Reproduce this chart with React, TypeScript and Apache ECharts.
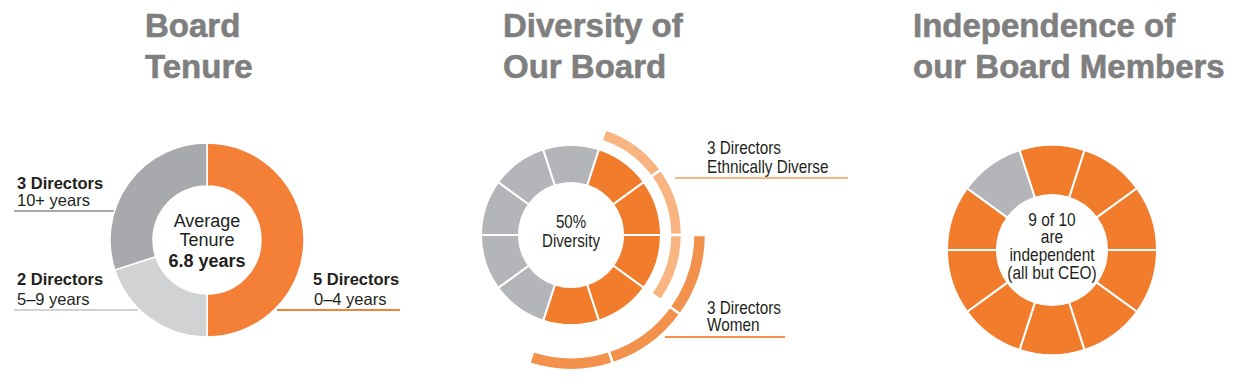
import React, { useEffect, useRef } from "react";
import * as echarts from "echarts";

// ---- Data ----
const titles = [
  ["Board", "Tenure"],
  ["Diversity of", "Our Board"],
  ["Independence of", "our Board Members"],
];
const tenureGroups = ["0–4 years", "5–9 years", "10+ years"];
const tenureDirectors = [5, 2, 3];
const averageTenure = "6.8 years";

// one entry per board seat (10 seats), clockwise
const diverseSeats = [1, 1, 1, 1, 1, 0, 0, 0, 0, 0];
const ethnicallyDiverseSeats = [1, 1, 1, 0, 0, 0, 0, 0, 0, 0];
const womenSeats = [0, 0, 1, 1, 1, 0, 0, 0, 0, 0];
const independentSeats = [1, 1, 1, 1, 1, 1, 1, 1, 0, 1];

const diversityPct = "50%";
const ethnicCount = 3;
const womenCount = 3;
const independentCount = 9;

// ---- Styles ----
const ORANGE = "#F07C2C";
const ORANGE_L = "#F47F36";
const GRAY_D = "#A8A9AC";
const GRAY_L = "#D1D2D4";
const GRAY_M = "#B4B5B8";
const ETH = "#F8B582";
const WOMEN = "#F2914C";
const TXT = "#231F20";
const TITLE = "#7F7F7F";
const FONT = "'Liberation Sans', Arial, sans-serif";

function seatPie(
  seats: number[],
  on: string,
  off: string | null,
  center: number[],
  radius: number[],
  border: number
) {
  return {
    type: "pie",
    center,
    radius,
    startAngle: 72,
    clockwise: true,
    silent: true,
    label: { show: false },
    labelLine: { show: false },
    emphasis: { disabled: true },
    data: seats.map((s, i) => ({
      name: "seat " + (i + 1),
      value: 1,
      itemStyle:
        s || off
          ? {
              color: s ? on : (off as string),
              borderColor: "#fff",
              borderWidth: border,
            }
          : { color: "rgba(0,0,0,0)", borderWidth: 0 },
    })),
  };
}

function txt(
  text: string,
  x: number,
  y: number,
  size: number,
  opts: any = {}
) {
  const align = opts.align || "left";
  return {
    type: "text",
    x,
    y,
    scaleX: opts.scaleX || 1,
    silent: true,
    style: {
      text,
      fill: opts.color || TXT,
      fontSize: size,
      fontWeight: opts.bold ? "bold" : "normal",
      fontFamily: FONT,
      align,
      verticalAlign: "middle",
      textAlign: align,
      textVerticalAlign: "middle",
      ...(opts.stroke
        ? { stroke: opts.color, lineWidth: opts.stroke }
        : {}),
    },
  };
}

function line(x1: number, x2: number, y: number, color: string) {
  return {
    type: "line",
    silent: true,
    shape: { x1, y1: y, x2, y2: y },
    style: { stroke: color, lineWidth: 2 },
  };
}

export default function App() {
  const ref = useRef<HTMLDivElement>(null);

  useEffect(() => {
    document.body.style.margin = "0";
    const chart = echarts.init(ref.current!, null, { renderer: "svg" });

    const tenureColors = [ORANGE_L, GRAY_L, GRAY_D];

    const graphic: any[] = [];
    const titleX = [145, 503, 913];
    titles.forEach((t, i) => {
      graphic.push(txt(t[0], titleX[i], 25, 33, { bold: true, color: TITLE, stroke: 0.6 }));
      graphic.push(txt(t[1], titleX[i], 66, 33, { bold: true, color: TITLE, stroke: 0.6 }));
    });

    // Tenure labels
    graphic.push(txt(`${tenureDirectors[2]} Directors`, 17, 183, 16.5, { bold: true }));
    graphic.push(txt(tenureGroups[2], 17, 200, 16.5));
    graphic.push(line(14, 114, 211, GRAY_D));
    graphic.push(txt(`${tenureDirectors[1]} Directors`, 17, 279, 16.5, { bold: true }));
    graphic.push(txt(tenureGroups[1], 17, 299, 16.5));
    graphic.push(line(14, 138, 310, GRAY_L));
    graphic.push(txt(`${tenureDirectors[0]} Directors`, 313, 279, 16.5, { bold: true }));
    graphic.push(txt(tenureGroups[0], 314, 299, 16.5));
    graphic.push(line(277, 400, 310, ORANGE_L));
    // Tenure center
    graphic.push(txt("Average", 207, 221, 18, { align: "center" }));
    graphic.push(txt("Tenure", 207, 240, 18, { align: "center" }));
    graphic.push(txt(averageTenure, 207, 261, 18, { align: "center", bold: true }));

    // Diversity labels (condensed look)
    const N = { scaleX: 0.85 };
    graphic.push(txt(`${ethnicCount} Directors`, 707, 148, 18, N));
    graphic.push(txt("Ethnically Diverse", 707, 167, 18, N));
    graphic.push(line(675, 848, 178, ETH));
    graphic.push(txt(`${womenCount} Directors`, 707, 308, 18, N));
    graphic.push(txt("Women", 707, 325, 18, N));
    graphic.push(line(665, 785, 337, WOMEN));
    const C = { align: "center", scaleX: 0.84 };
    graphic.push(txt(diversityPct, 571, 222, 18, C));
    graphic.push(txt("Diversity", 571, 241, 18, C));

    // Independence center
    const C2 = { align: "center", scaleX: 0.86 };
    graphic.push(txt(`${independentCount} of ${independentSeats.length}`, 1052, 220, 18, C2));
    graphic.push(txt("are", 1052, 237, 18, C2));
    graphic.push(txt("independent", 1052, 255, 18, C2));
    graphic.push(txt("(all but CEO)", 1052, 273, 18, C2));

    chart.setOption({
      animation: false,
      graphic,
      series: [
        {
          type: "pie",
          center: [207, 240],
          radius: [54, 97],
          startAngle: 90,
          clockwise: true,
          silent: true,
          label: { show: false },
          labelLine: { show: false },
          emphasis: { disabled: true },
          data: tenureDirectors.map((v, i) => ({
            name: tenureGroups[i],
            value: v,
            itemStyle: { color: tenureColors[i], borderColor: "#fff", borderWidth: 1.5 },
          })),
        },
        seatPie(diverseSeats, ORANGE, GRAY_M, [571, 235], [52, 90], 2),
        seatPie(ethnicallyDiverseSeats, ETH, null, [571, 235], [99, 111], 2.5),
        seatPie(womenSeats, WOMEN, null, [571, 235], [122, 135], 2.5),
        seatPie(independentSeats, ORANGE, GRAY_M, [1052, 250], [55, 105], 2),
      ],
    });
    return () => chart.dispose();
  }, []);

  return <div ref={ref} style={{ width: 1236, height: 389 }} />;
}
